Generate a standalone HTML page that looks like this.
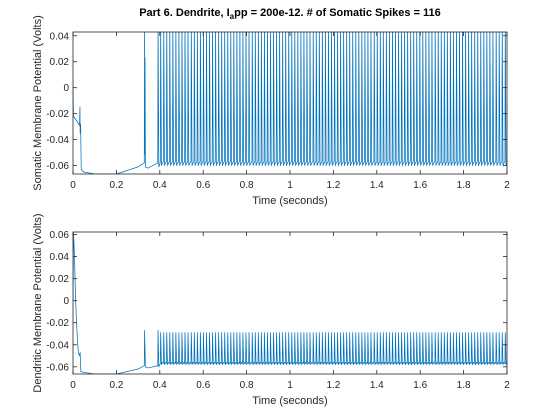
<!DOCTYPE html>
<html><head><meta charset="utf-8"><style>
body{margin:0;background:#fff;}
svg{display:block;font-family:"Liberation Sans",Arial,sans-serif;}
</style></head><body>
<svg id="fig" width="560" height="420" viewBox="0 0 560 420" xmlns="http://www.w3.org/2000/svg">
<rect width="560" height="420" fill="#fff"/>
<text x="290" y="16" text-anchor="middle" font-size="11" font-weight="bold" fill="#000">Part 6. Dendrite, I<tspan dy="3" font-size="8">a</tspan><tspan dy="-3">pp = 200e-12. # of Somatic Spikes = 116</tspan></text>
</svg>
<script>
const spikeTimes=[0.330,0.392,
.404,.418,.432,.446,.460,.474,.488,.502,.516,.530,.545,.559,.573,.587,.601,.615,.629,.643,.657,.671,.685,.699,.713,.727,.741,.755,.769,.783,.797,.811,.826,.840,.854,.868,.882,.896,.910,.924,.938,.952,.966,.980,.994,1.008,1.022,1.036,1.050,1.064,1.078,1.092,1.107,1.121,1.135,1.149,1.163,1.177,1.191,1.205,1.219,1.233,1.247,1.261,1.275,1.289,1.303,1.317,1.331,1.345,1.359,1.373,1.388,1.402,1.416,1.430,1.444,1.458,1.472,1.486,1.500,1.514,1.528,1.542,1.556,1.570,1.584,1.598,1.612,1.626,1.640,1.654,1.669,1.683,1.697,1.711,1.725,1.739,1.753,1.767,1.781,1.795,1.809,1.823,1.837,1.851,1.865,1.879,1.893,1.907,1.921,1.935,1.950,1.964,1.978,1.992];
const somaPreT=[0,0.002,0.015,0.030,0.032,0.033,0.035,0.038,0.05,0.1,0.2,0.3,0.328];
const somaPreV=[-0.002,-0.022,-0.025,-0.029,-0.015,-0.035,-0.028,-0.063,-0.065,-0.0665,-0.0665,-0.061,-0.058];
const somaPeak=[0.05,0.05];
const somaTrough=[-0.061,-0.060];
const somaPre=[-0.058,-0.057];
const dendPreT=[0,0.002,0.006,0.012,0.020,0.025,0.030,0.033,0.036,0.05,0.1,0.2,0.3,0.328];
const dendPreV=[0,0.062,0.045,0.0,-0.035,-0.047,-0.050,-0.047,-0.064,-0.065,-0.0665,-0.0665,-0.062,-0.059];
const dendPeak=[-0.027,-0.029];
const dendTrough=[-0.060,-0.058];
const dendPre=[-0.059,-0.057];
const xTicks=[0,0.2,0.4,0.6,0.8,1,1.2,1.4,1.6,1.8,2];
const yTicks1=[-0.06,-0.04,-0.02,0,0.02,0.04];
const yTicks2=[-0.06,-0.04,-0.02,0,0.02,0.04,0.06];
const NS="http://www.w3.org/2000/svg";
const svg=document.getElementById('fig');
function mk(tag,attrs,parent){const e=document.createElementNS(NS,tag);for(const k in attrs)e.setAttribute(k,attrs[k]);(parent||svg).appendChild(e);return e;}
function fmt(v){if(Math.abs(v)<1e-9)return "0";return String(+v.toFixed(2));}
function drawAxes(opt){
  const L=73,R=507,T=opt.top,B=opt.bottom;
  const sx=t=>L+(t-0)/(2-0)*(R-L);
  const sy=v=>B-(v-opt.ymin)/(opt.ymax-opt.ymin)*(B-T);
  const g=mk('g',{});
  
  
  const pts=[];
  for(let i=0;i<opt.preT.length;i++)pts.push([opt.preT[i],opt.preV[i]]);
  spikeTimes.forEach((t,i)=>{
    const j=i<2?0:1;
    const pk=i<2?opt.peak[0]:opt.peak[1];
    pts.push([t-0.0015,opt.pre[j]]);
    pts.push([t,pk]);
    if(i===0&&opt.second!==undefined){pts.push([t+0.0012,opt.trough[0]+0.01]);pts.push([t+0.002,opt.second]);}
    pts.push([t+0.0035,opt.trough[j]]);
    const nt=i+1<spikeTimes.length?spikeTimes[i+1]:2;
    if(nt-t>0.02){pts.push([t+0.015,opt.trough[j]-0.001]);}
    else pts.push([t+0.008,opt.trough[j]+0.002]);
  });
  pts.push([2,opt.pre[1]]);
  const cp=mk('clipPath',{id:opt.name+'-clip'},g);
  mk('rect',{x:L,y:T,width:R-L,height:B-T},cp);
  const line=mk('polyline',{points:pts.map(p=>sx(p[0]).toFixed(2)+','+sy(p[1]).toFixed(2)).join(' '),fill:'none',stroke:'#0072BD','stroke-width':0.75,'stroke-linejoin':'round','clip-path':'url(#'+opt.name+'-clip)'},g);
  
  
  const box=mk('rect',{x:L,y:T,width:R-L,height:B-T,fill:'none',stroke:'#262626','stroke-width':0.8},g);
  
  
  xTicks.forEach(t=>{
    const x=sx(t);
    mk('line',{x1:x,x2:x,y1:B,y2:B-4,stroke:'#262626','stroke-width':0.8},g);
    mk('line',{x1:x,x2:x,y1:T,y2:T+4,stroke:'#262626','stroke-width':0.8},g);
    const tx=mk('text',{x:x,y:B+14,'text-anchor':'middle','font-size':10,fill:'#262626'},g);
    tx.textContent=fmt(t);
    
    
  });
  opt.yTicks.forEach(v=>{
    const y=sy(v);
    mk('line',{x1:L,x2:L+4,y1:y,y2:y,stroke:'#262626','stroke-width':0.8},g);
    mk('line',{x1:R,x2:R-4,y1:y,y2:y,stroke:'#262626','stroke-width':0.8},g);
    const tx=mk('text',{x:L-4,y:y+3.5,'text-anchor':'end','font-size':10,fill:'#262626'},g);
    tx.textContent=fmt(v);
    
    
  });
  const xl=mk('text',{x:(L+R)/2,y:B+30,'text-anchor':'middle','font-size':11,fill:'#262626'},g);
  xl.textContent='Time (seconds)';
  
  
  const yl=mk('text',{x:0,y:0,'text-anchor':'middle','font-size':11,fill:'#262626',transform:'translate(41,'+((T+B)/2)+') rotate(-90)'},g);
  yl.textContent=opt.ylabel;
  
  
}
drawAxes({name:'soma-plot',top:32,bottom:174,ymin:-0.0665,ymax:0.0429,yTicks:yTicks1,preT:somaPreT,preV:somaPreV,peak:somaPeak,trough:somaTrough,pre:somaPre,second:0.023,ylabel:'Somatic Membrane Potential (Volts)'});
drawAxes({name:'dendrite-plot',top:232,bottom:374,ymin:-0.0665,ymax:0.0623,yTicks:yTicks2,preT:dendPreT,preV:dendPreV,peak:dendPeak,trough:dendTrough,pre:dendPre,ylabel:'Dendritic Membrane Potential (Volts)'});
</script>
</body></html>
